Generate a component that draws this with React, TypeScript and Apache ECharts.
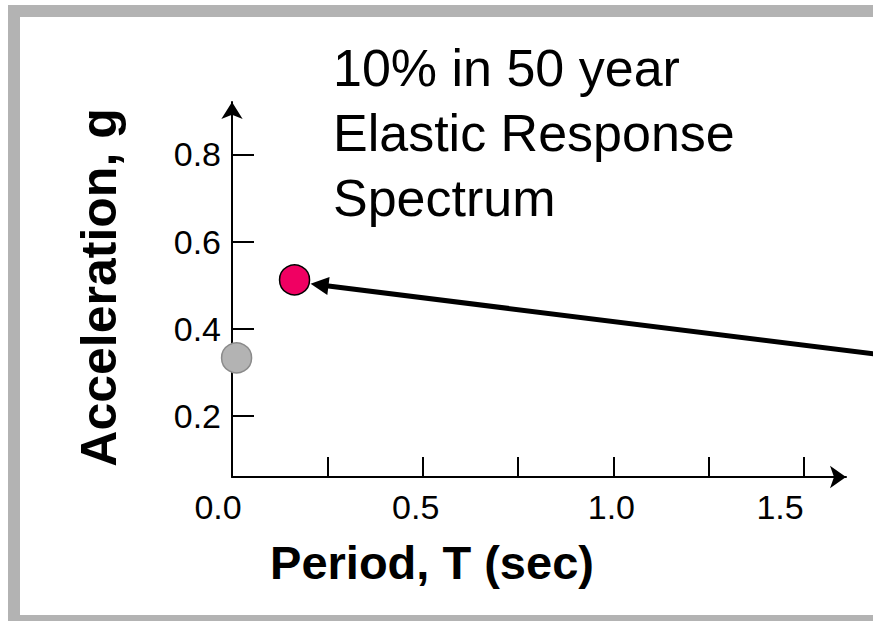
import React, { useEffect, useRef } from "react";
import * as echarts from "echarts";

// Axis ticks and labels
const periodTicks = [0.25, 0.5, 0.75, 1.0, 1.25, 1.5];
const periodLabels = [0, 0.5, 1.0, 1.5];
const accelTicks = [0.2, 0.4, 0.6, 0.8];

// Points [period (s), acceleration (g)]
const groundPoint = [[0.012, 0.333]];
const spectrumPoint = [[0.164, 0.512]];

// Pointer arrow [fromPeriod, fromAccel, tipPeriod, tipAccel], running in from the right
const pointerArrow = [[1.75, 0.335, 0.206, 0.503]];

const FONT = '"Liberation Sans", Arial, Helvetica, sans-serif';

// small horizontal nudges for the period labels (right padding shifts the label left)
const periodLabelPad: Record<string, number> = { "0.0": 28, "0.5": 14, "1.0": 4, "1.5": 48 };

export default function App() {
  const ref = useRef<HTMLDivElement>(null);

  useEffect(() => {
    if (!ref.current) return;
    const chart = echarts.init(ref.current, null, { renderer: "svg" });

    const rich: Record<string, any> = {};
    Object.keys(periodLabelPad).forEach((k, i) => {
      rich["p" + i] = {
        fontFamily: FONT,
        fontSize: 34,
        color: "#000",
        padding: [0, periodLabelPad[k], 0, 0],
      };
    });

    chart.setOption({
      animation: false,
      backgroundColor: "#ffffff",
      textStyle: { fontFamily: FONT },
      title: {
        text: "10% in 50 year\nElastic Response\nSpectrum",
        left: 333,
        top: 35,
        padding: 0,
        textStyle: {
          fontFamily: FONT,
          fontSize: 52,
          fontWeight: "normal",
          lineHeight: 65,
          color: "#000",
        },
      },
      graphic: [
        // slide frame: top, left (two pieces) and bottom edges
        {
          type: "rect",
          shape: { x: 8, y: 5, width: 865, height: 12 },
          style: { fill: "#b3b3b3" },
          silent: true,
        },
        {
          type: "rect",
          shape: { x: 8, y: 5, width: 12, height: 301 },
          style: { fill: "#b3b3b3" },
          silent: true,
        },
        {
          type: "rect",
          shape: { x: 8, y: 305, width: 12, height: 316 },
          style: { fill: "#b3b3b3" },
          silent: true,
        },
        {
          type: "rect",
          shape: { x: 8, y: 615, width: 865, height: 6 },
          style: { fill: "#b3b3b3" },
          silent: true,
        },
      ],
      grid: { left: 232, right: 27, top: 102, bottom: 144, containLabel: false },
      xAxis: {
        type: "value",
        min: 0,
        max: 1.61,
        name: "Period, T (sec)",
        nameLocation: "middle",
        nameGap: 62,
        nameTextStyle: {
          fontFamily: FONT,
          fontSize: 47,
          fontWeight: "bold",
          color: "#000",
          padding: [0, 214, 0, 0],
        },
        axisLine: {
          onZero: false,
          symbol: ["none", "arrow"],
          symbolSize: [17, 16],
          lineStyle: { color: "#000", width: 2 },
        },
        axisTick: {
          inside: true,
          length: 20,
          customValues: periodTicks,
          lineStyle: { color: "#000", width: 2 },
        },
        axisLabel: {
          margin: 13,
          customValues: periodLabels,
          formatter: (v: number) => {
            const s = v.toFixed(1);
            const idx = Object.keys(periodLabelPad).indexOf(s);
            return idx >= 0 ? `{p${idx}|${s}}` : s;
          },
          rich,
          fontFamily: FONT,
          fontSize: 34,
          color: "#000",
        },
        splitLine: { show: false },
      },
      yAxis: {
        type: "value",
        min: 0.06,
        max: 0.92,
        name: "Acceleration, g",
        nameLocation: "middle",
        nameRotate: 90,
        nameGap: 108,
        nameTextStyle: {
          fontFamily: FONT,
          fontSize: 50,
          fontWeight: "bold",
          color: "#000",
          padding: [0, 0, 0, 4],
        },
        axisLine: {
          onZero: false,
          symbol: ["none", "arrow"],
          symbolSize: [16, 17],
          lineStyle: { color: "#000", width: 2 },
        },
        axisTick: {
          inside: true,
          length: 22,
          customValues: accelTicks,
          lineStyle: { color: "#000", width: 2 },
        },
        axisLabel: {
          margin: 11,
          customValues: accelTicks,
          formatter: (v: number) => v.toFixed(1),
          fontFamily: FONT,
          fontSize: 34,
          color: "#000",
        },
        splitLine: { show: false },
      },
      series: [
        {
          type: "custom",
          name: "pointer",
          coordinateSystem: "cartesian2d",
          clip: false,
          silent: true,
          encode: { x: [0, 2], y: [1, 3] },
          data: pointerArrow,
          z: 2,
          renderItem: (_params: any, api: any) => {
            const p1 = api.coord([api.value(0), api.value(1)]);
            const p2 = api.coord([api.value(2), api.value(3)]);
            const dx = p2[0] - p1[0];
            const dy = p2[1] - p1[1];
            const len = Math.hypot(dx, dy) || 1;
            const ux = dx / len;
            const uy = dy / len;
            const headLen = 18;
            const halfW = 9;
            const bx = p2[0] - ux * headLen;
            const by = p2[1] - uy * headLen;
            return {
              type: "group",
              children: [
                {
                  type: "line",
                  shape: { x1: p1[0], y1: p1[1], x2: bx + ux * 2, y2: by + uy * 2 },
                  style: { stroke: "#000", lineWidth: 5 },
                },
                {
                  type: "polygon",
                  shape: {
                    points: [
                      [p2[0], p2[1]],
                      [bx - uy * halfW, by + ux * halfW],
                      [bx + uy * halfW, by - ux * halfW],
                    ],
                  },
                  style: { fill: "#000" },
                },
              ],
            };
          },
        },
        {
          type: "scatter",
          name: "ground",
          data: groundPoint,
          symbolSize: 30,
          itemStyle: { color: "#b3b3b3", borderColor: "#8a8a8a", borderWidth: 1.5, opacity: 1 },
          clip: false,
          silent: true,
          z: 3,
        },
        {
          type: "scatter",
          name: "spectrum",
          data: spectrumPoint,
          symbolSize: 30,
          itemStyle: { color: "#f00062", borderColor: "#000", borderWidth: 1.5, opacity: 1 },
          clip: false,
          silent: true,
          z: 3,
        },
      ],
    });

    return () => chart.dispose();
  }, []);

  return (
    <div
      ref={ref}
      style={{
        position: "absolute",
        left: 0,
        top: 0,
        width: 873,
        height: 621,
        overflow: "hidden",
      }}
    />
  );
}
